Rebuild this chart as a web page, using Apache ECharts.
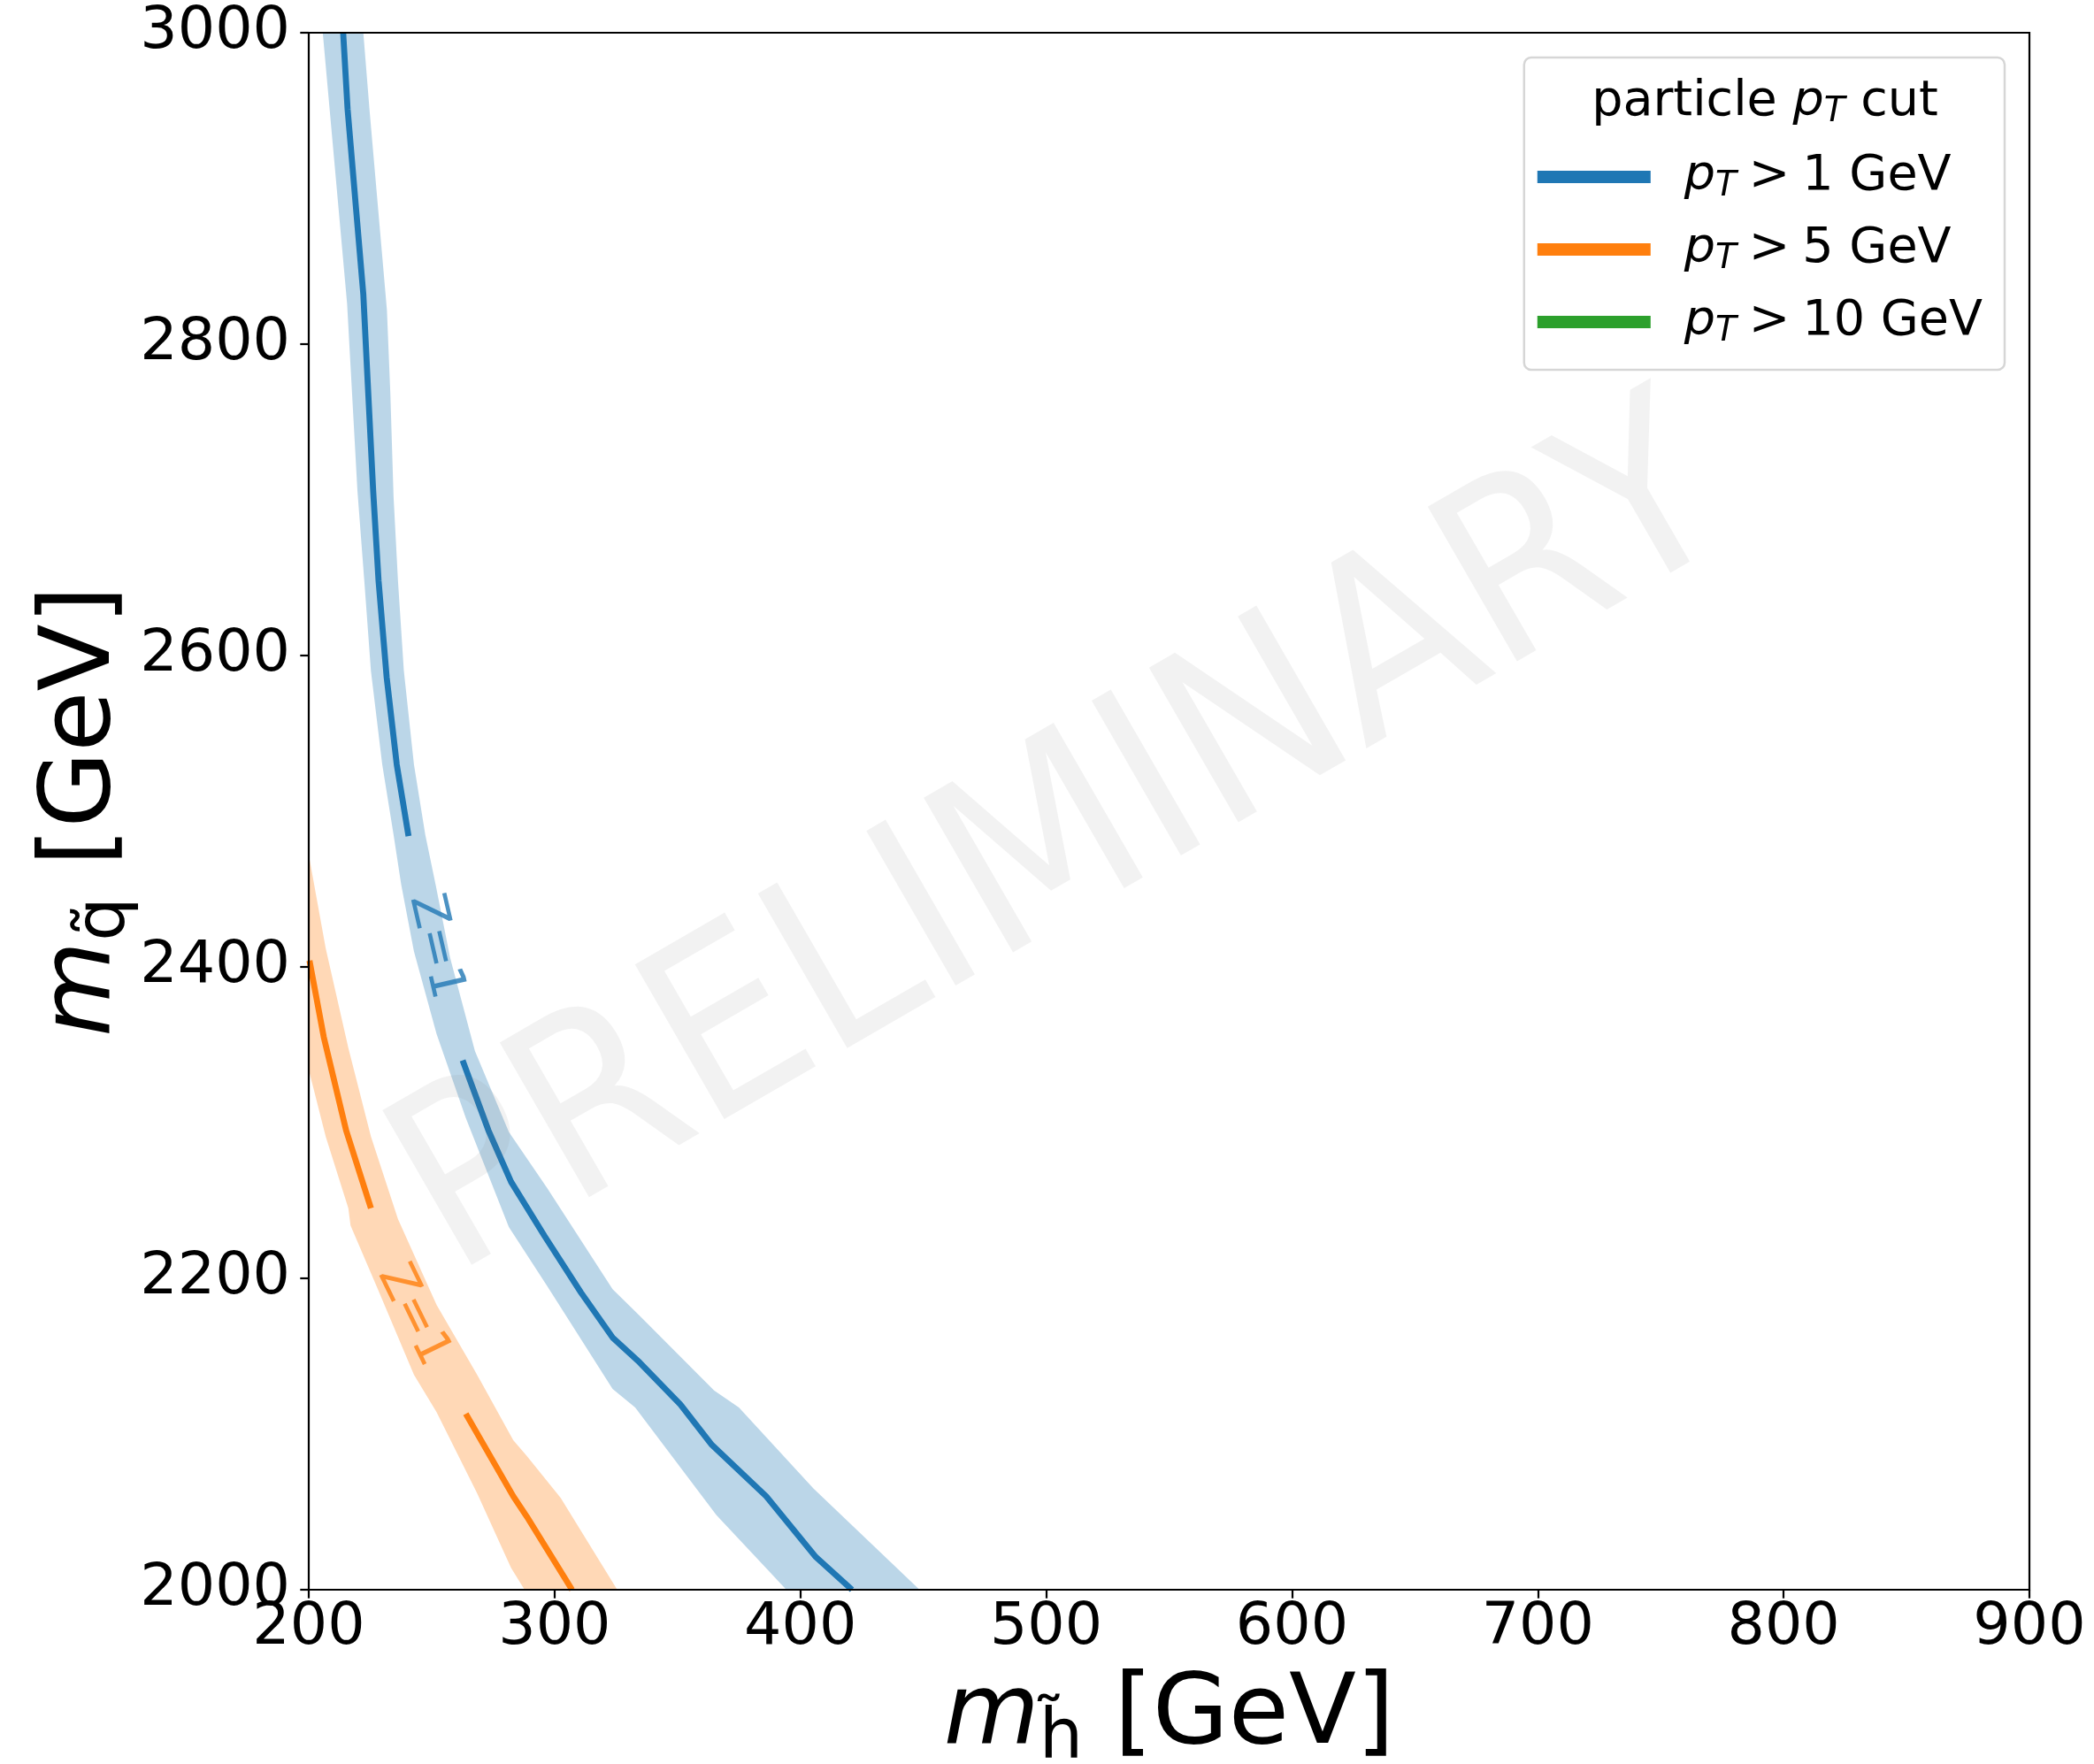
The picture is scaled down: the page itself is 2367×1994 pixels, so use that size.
<!DOCTYPE html>
<html>
<head>
<meta charset="utf-8">
<title>Z=1 contours vs particle pT cut</title>
<script src="https://cdn.jsdelivr.net/npm/echarts@6/dist/echarts.min.js"></script>
<style>
  html, body { margin: 0; padding: 0; background: #fff; }
  #chart { width: 2367px; height: 1994px; }
</style>
</head>
<body>
<div id="chart"></div>
<script>
// axis ranges / ticks
const xTicks = [200, 300, 400, 500, 600, 700, 800, 900];
const yTicks = [2000, 2200, 2400, 2600, 2800, 3000];

// legend entries
const cutNames = ['pt1', 'pt5', 'pt10'];
const cutValues = ['1', '5', '10'];
const cutColors = ['#1f77b4', '#ff7f0e', '#2ca02c'];

// pT > 1 GeV : Z=1 line (split around the inline label) and its band
const blueLineTop = [[214.0, 3000], [215.8, 2951], [222.2, 2832], [224.0, 2775], [226.2, 2706],
  [228.4, 2648], [231.7, 2586], [235.8, 2530], [240.6, 2484]];
const blueLineBottom = [[262.6, 2340], [273.1, 2295], [282.3, 2262], [296.0, 2227], [310.7, 2191],
  [323.6, 2162], [334.6, 2146], [351.2, 2119], [364.0, 2093], [386.1, 2060], [406.3, 2021], [421.0, 2000]];
const blueBandLeft = [[205.7, 3000], [215.6, 2826], [219.8, 2706], [222.6, 2648], [225.3, 2590],
  [229.9, 2530], [234.5, 2485], [237.6, 2453], [242.8, 2410], [252.0, 2357], [263.9, 2303],
  [281.4, 2233], [297.0, 2195], [323.6, 2129], [332.8, 2117], [365.8, 2048], [394.3, 2000]];
const blueBandRight = [[222.2, 3000], [224.8, 2949], [231.8, 2822], [233.2, 2768], [234.5, 2702],
  [236.3, 2648], [238.7, 2590], [242.8, 2530], [247.4, 2485], [251.6, 2453], [257.5, 2406],
  [267.6, 2346], [281.4, 2294], [297.0, 2258], [323.6, 2193], [334.6, 2176], [364.9, 2128],
  [375.0, 2117], [405.3, 2065], [448.5, 2000]];
const blueLabelAt = [[251.4, 2413]];

// pT > 5 GeV
const orangeLineTop = [[200.3, 2404], [206.1, 2355], [215.2, 2295], [225.3, 2245]];
const orangeLineBottom = [[263.9, 2113], [283.2, 2060], [288.7, 2047], [307.1, 2000]];
const orangeBandLow = [[200, 2334], [206.9, 2291], [216.1, 2245], [217.0, 2234], [228.1, 2193],
  [242.8, 2138], [252.0, 2114], [268.5, 2062], [282.3, 2014], [287.8, 2000]];
const orangeBandHigh = [[200, 2472], [206.9, 2412], [216.1, 2348], [225.3, 2291], [236.3, 2238],
  [252.0, 2183], [268.5, 2138], [283.2, 2096], [288.7, 2086], [302.5, 2059], [325.5, 2000]];
const orangeLabelAt = [[242.4, 2176]];

const FONT = 'DejaVu Sans';

function band(edgeA, edgeB, fill) {
  const poly = edgeA.concat(edgeB.slice().reverse());
  return {
    type: 'custom',
    silent: true,
    z: 1,
    data: poly,
    renderItem: function (params, api) {
      if (params.dataIndex !== 0) return null;
      return {
        type: 'polygon',
        shape: { points: poly.map(function (p) { return api.coord(p); }) },
        style: { fill: fill }
      };
    }
  };
}

function line(name, data, color) {
  return {
    type: 'line', name: name, data: data, showSymbol: false, silent: true, z: 3,
    itemStyle: { color: color },
    lineStyle: { color: color, width: 6.8 }
  };
}

function zLabel(pos, color, angle) {
  return {
    type: 'scatter', name: 'label', data: pos, symbolSize: 1, silent: true, z: 4,
    itemStyle: { color: 'transparent' },
    label: {
      show: true, position: 'inside', formatter: 'Z=1', rotate: angle,
      color: color, fontSize: 55.6, fontFamily: FONT
    }
  };
}

function axisName(sym, sub) {
  return '{it|' + sym + '}{sub|' + sub + '}{n| [GeV]}';
}
const nameRich = {
  it: { fontFamily: FONT, fontStyle: 'italic', fontSize: 111, lineHeight: 130, color: '#000' },
  sub: { fontFamily: FONT, fontSize: 78, lineHeight: 70, verticalAlign: 'bottom', color: '#000' },
  n: { fontFamily: FONT, fontSize: 111, lineHeight: 130, color: '#000' }
};
const legendRich = {
  g: { width: 33, lineHeight: 60 },
  it: { fontFamily: FONT, fontStyle: 'italic', fontSize: 55.6, lineHeight: 60, color: '#000' },
  sub: { fontFamily: FONT, fontStyle: 'italic', fontSize: 39, lineHeight: 34, verticalAlign: 'bottom', color: '#000' },
  n: { fontFamily: FONT, fontSize: 55.6, lineHeight: 60, color: '#000' }
};

const chart = echarts.init(document.getElementById('chart'), null, { renderer: 'canvas' });

chart.setOption({
  animation: false,
  backgroundColor: '#fff',
  grid: {
    left: 349, right: 73, top: 37, bottom: 197,
    show: true, borderColor: '#000', borderWidth: 2.2, backgroundColor: 'transparent',
    containLabel: false, outerBoundsMode: 'none', z: 10
  },
  xAxis: {
    type: 'value', min: xTicks[0], max: xTicks[xTicks.length - 1], interval: 100, z: 10,
    name: axisName('m', 'h\u0303'), nameLocation: 'middle', nameGap: 79, nameMoveOverlap: false,
    nameTextStyle: { rich: nameRich },
    axisLine: { show: false },
    axisTick: { show: true, length: 9.7, lineStyle: { color: '#000', width: 2.2 } },
    axisLabel: { fontSize: 66.7, fontFamily: FONT, color: '#000', margin: 10,
      formatter: function (v) { return String(v); } },
    splitLine: { show: false }
  },
  yAxis: {
    type: 'value', min: yTicks[0], max: yTicks[yTicks.length - 1], interval: 200, z: 10,
    name: axisName('m', 'q\u0303'), nameLocation: 'middle', nameGap: 190, nameMoveOverlap: false,
    nameTextStyle: { rich: nameRich },
    axisLine: { show: false },
    axisTick: { show: true, length: 9.7, lineStyle: { color: '#000', width: 2.2 } },
    axisLabel: { fontSize: 66.7, fontFamily: FONT, color: '#000', margin: 21,
      formatter: function (v) { return String(v); } },
    splitLine: { show: false }
  },
  legend: {
    data: cutNames, orient: 'vertical', right: 101, top: 65,
    icon: 'rect', itemWidth: 128, itemHeight: 14, itemGap: 24,
    padding: [107, 25, 24, 15],
    backgroundColor: '#fff', borderColor: '#d6d6d6', borderWidth: 2.5, borderRadius: 8,
    itemStyle: { borderWidth: 0 },
    selectedMode: false,
    formatter: function (name) {
      return '{g|}{it|p}{sub|T}{n|\u2005>\u2005' + cutValues[cutNames.indexOf(name)] + ' GeV}';
    },
    textStyle: { fontFamily: FONT, fontSize: 55.6, color: '#000', rich: legendRich }
  },
  graphic: [
    {
      type: 'text', x: 1995, y: 116, z: 10, silent: true,
      style: {
        text: '{n|particle }{it|p}{sub|T}{n| cut}', rich: legendRich,
        align: 'center', verticalAlign: 'middle'
      }
    },
    {
      type: 'text', x: 1203, y: 960, z: 20, silent: true,
      rotation: 30 * Math.PI / 180, scaleY: 1.09,
      style: {
        text: 'PRELIMINARY', fontFamily: FONT, fontSize: 254,
        fill: 'rgba(128,128,128,0.1)', align: 'center', verticalAlign: 'middle'
      }
    }
  ],
  series: [
    band(blueBandLeft, blueBandRight, 'rgba(31,119,180,0.3)'),
    band(orangeBandLow, orangeBandHigh, 'rgba(255,127,14,0.3)'),
    line(cutNames[0], blueLineTop, cutColors[0]),
    line(cutNames[0], blueLineBottom, cutColors[0]),
    line(cutNames[1], orangeLineTop, cutColors[1]),
    line(cutNames[1], orangeLineBottom, cutColors[1]),
    line(cutNames[2], [], cutColors[2]),
    zLabel(blueLabelAt, cutColors[0], -77),
    zLabel(orangeLabelAt, cutColors[1], -64)
  ]
});
</script>
</body>
</html>
